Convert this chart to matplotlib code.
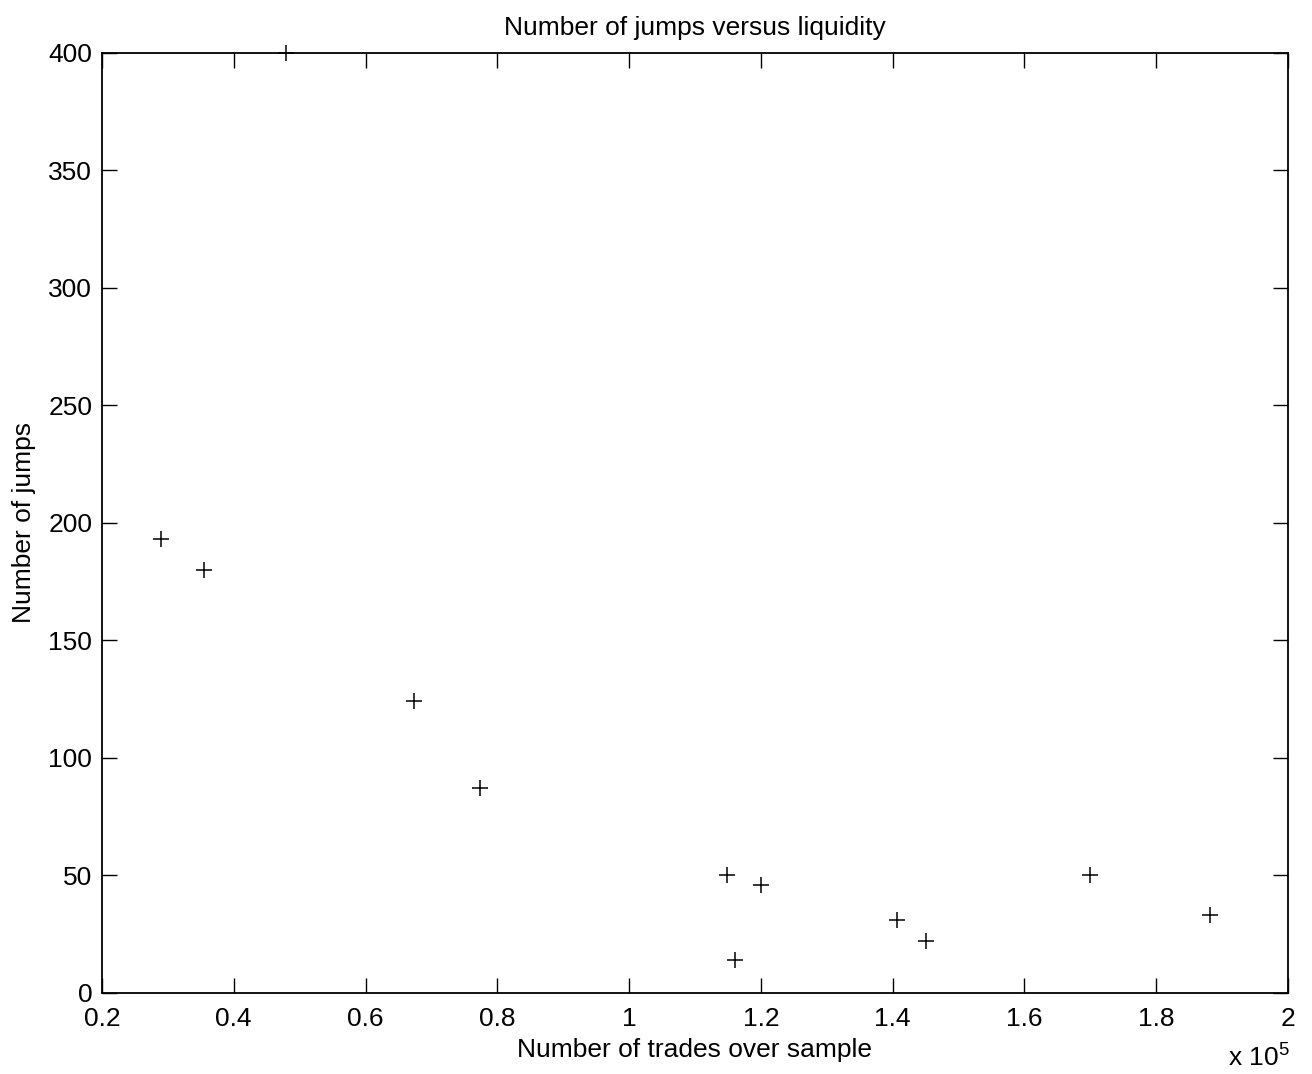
import matplotlib
matplotlib.use("Agg")
import matplotlib.pyplot as plt
from matplotlib.ticker import FuncFormatter, MultipleLocator

plt.rcParams['font.family'] = ['Liberation Sans', 'DejaVu Sans']
plt.rcParams['mathtext.fontset'] = 'custom'
plt.rcParams['mathtext.rm'] = 'Liberation Sans'
plt.rcParams['mathtext.it'] = 'Liberation Sans'

# number of trades over the sample and number of detected jumps, per stock
n_trades = [28900, 35450, 48000, 67300, 77400, 114800, 116100, 120000,
            140600, 145000, 170000, 188200]
n_jumps = [193, 180, 400, 124, 87, 50, 14, 46, 31, 22, 50, 33]

FS = 19

fig = plt.figure(figsize=(13.12, 10.74), dpi=100)
ax = fig.add_axes([0.0777, 0.0757, 0.9040, 0.8750])

ax.plot(n_trades, n_jumps, linestyle='none', marker='+', markersize=12,
        markeredgewidth=1.1, color='black', clip_on=False)

ax.set_xlim(20000, 200000)
ax.set_ylim(0, 400)
ax.xaxis.set_major_locator(MultipleLocator(20000))
ax.yaxis.set_major_locator(MultipleLocator(50))
ax.xaxis.set_major_formatter(FuncFormatter(lambda v, p: '%g' % round(v / 1e5, 6)))
ax.yaxis.set_major_formatter(FuncFormatter(lambda v, p: '%g' % v))

ax.tick_params(direction='in', length=11, width=1, top=True, right=True,
               labelsize=FS)
ax.tick_params(axis='x', pad=10)
ax.tick_params(axis='y', pad=7)
for s in ax.spines.values():
    s.set_linewidth(1.3)

ax.set_title('Number of jumps versus liquidity', fontsize=FS, pad=13)
ax.set_xlabel('Number of trades over sample', fontsize=FS, labelpad=5)
ax.set_ylabel('Number of jumps', fontsize=FS, labelpad=9)

# MATLAB-style exponent label under the right end of the x axis
fig.text(1290 / 1312, 7 / 1074, r'x 10$^5$', ha='right', va='baseline',
         fontsize=FS)

fig.savefig('out.png', dpi=100, facecolor='white')
